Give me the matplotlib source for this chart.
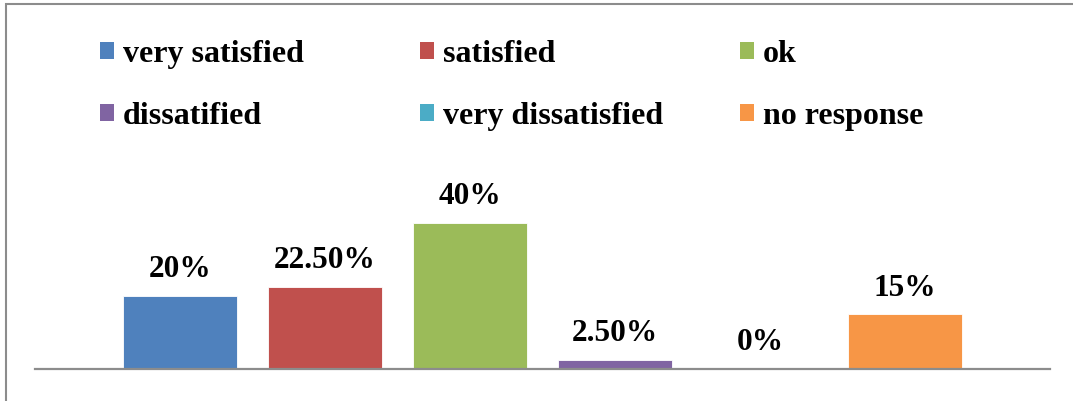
import matplotlib.pyplot as plt
from matplotlib.patches import Patch, Rectangle

categories = ["very satisfied", "satisfied", "ok", "dissatified",
              "very dissatisfied", "no response"]
values = [20, 22.5, 40, 2.5, 0, 15]
value_labels = ["20%", "22.50%", "40%", "2.50%", "0%", "15%"]
colors = ["#4F81BD", "#C0504D", "#9BBB59", "#8064A2", "#4BACC6", "#F79646"]

plt.rcParams['font.family'] = ['Liberation Serif', 'DejaVu Serif']
plt.rcParams['font.weight'] = 'bold'

W, H = 1073, 401
fig = plt.figure(figsize=(W / 100, H / 100), dpi=100)

# plot area in pixels: x 35..1050, baseline at y=369
ax = fig.add_axes([35 / W, 32 / H, 1015 / W, 164 / H])
xs = list(range(len(categories)))
ax.bar(xs, values, width=0.786, color=colors, edgecolor='white', linewidth=0.6)
ax.set_xlim(-1, 6)
ax.set_ylim(0, 45)

for x, v, lab in zip(xs, values, value_labels):
    ax.annotate(lab, (x, v), xytext=(0, 13.5), textcoords='offset points',
                ha='center', va='baseline', fontsize=22.5, fontweight='bold')

for side in ['top', 'left', 'right']:
    ax.spines[side].set_visible(False)
ax.spines['bottom'].set_color('#8c8c8c')
ax.spines['bottom'].set_linewidth(1.6)
ax.set_xticks([])
ax.set_yticks([])
ax.patch.set_alpha(0)

# legend: three columns placed like the original, two rows each
col_x = [100, 420, 740]
for c in range(3):
    idx = [c, c + 3]
    handles = [Patch(facecolor=colors[i], edgecolor='none') for i in idx]
    labels = [categories[i] for i in idx]
    leg = fig.legend(handles, labels, loc='upper left',
                     bbox_to_anchor=(col_x[c] / W, 1 - 40 / H),
                     frameon=False, fontsize=23, handlelength=0.44,
                     handleheight=0.44, handletextpad=0.27, labelspacing=1.02,
                     borderpad=0, borderaxespad=0)
    for t in leg.get_texts():
        t.set_fontweight('bold')

# chart border (cut off at right and bottom like the original)
fig.patches.append(Rectangle((6 / W, -0.1), 1.2, 1.1 - 4 / H, transform=fig.transFigure,
                             fill=False, edgecolor='#8c8c8c', linewidth=1.5))

fig.savefig('out.png', dpi=100)
